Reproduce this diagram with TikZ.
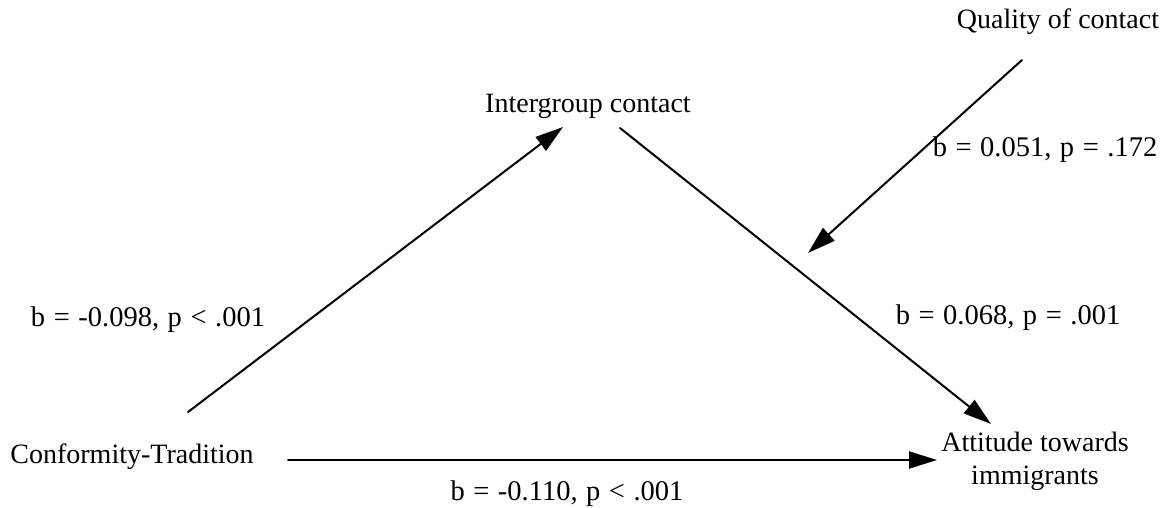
\documentclass[tikz,border=0pt]{standalone}
\usepackage{fontspec}
\setmainfont{Liberation Serif}
\usetikzlibrary{arrows.meta}
\newcommand\coeffont{\fontsize{28.5}{33}\selectfont\spaceskip 0.3em\relax}

\begin{document}
\begin{tikzpicture}[x=1pt,y=-1pt,>={Triangle[length=28pt,width=17pt]},line cap=round]
\useasboundingbox[fill=white] (0,0) rectangle (1167,507);
\tikzset{lbl/.style={font=\fontsize{28}{33}\selectfont,text=black,inner sep=0pt},coef/.style={lbl,font=\coeffont},path/.style={draw=black,line width=2pt,->}}
% variables
\node[lbl] (conf) at (132,457) {Conformity-Tradition};
\node[lbl] (inter) at (588,106) {Intergroup contact};
\node[lbl] (qual) at (1058,22) {Quality of contact};
\node[lbl,align=center] (att) at (1035,461) {Attitude towards\\immigrants};
% arrow ends
\coordinate (a1) at (188,412); \coordinate (a2) at (563,127);
\coordinate (b1) at (620,128); \coordinate (b2) at (991,424);
\coordinate (c1) at (1022,60); \coordinate (c2) at (808,253);
\coordinate (d1) at (288,460); \coordinate (d2) at (937,460);
\draw[path] (a1) -- (a2);
\draw[path] (b1) -- (b2);
\draw[path] (c1) -- (c2);
\draw[path] (d1) -- (d2);
% coefficients
\node[coef] (ca) at (148,320) {b = -0.098, p < .001};
\node[coef] (cb) at (1008,318) {b = 0.068, p = .001};
\node[coef] (cc) at (1045,150) {b = 0.051, p = .172};
\node[coef] (cd) at (567,494) {b = -0.110, p < .001};
\end{tikzpicture}
\end{document}
